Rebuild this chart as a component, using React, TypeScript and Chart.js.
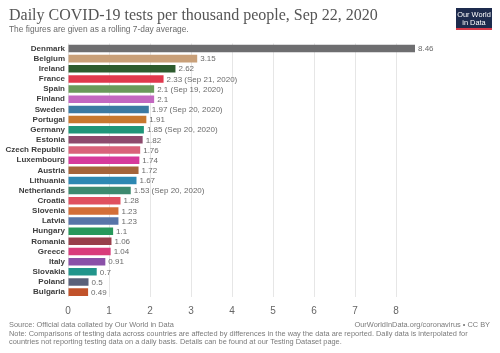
import React, { useEffect, useRef } from "react";
import { Chart, registerables } from "chart.js";

Chart.register(...registerables);

const countries = [
  "Denmark", "Belgium", "Ireland", "France", "Spain", "Finland", "Sweden", "Portugal",
  "Germany", "Estonia", "Czech Republic", "Luxembourg", "Austria", "Lithuania", "Netherlands",
  "Croatia", "Slovenia", "Latvia", "Hungary", "Romania", "Greece", "Italy", "Slovakia",
  "Poland", "Bulgaria",
];
const values = [
  8.46, 3.15, 2.62, 2.33, 2.1, 2.1, 1.97, 1.91, 1.85, 1.82, 1.76, 1.74, 1.72, 1.67, 1.53,
  1.28, 1.23, 1.23, 1.1, 1.06, 1.04, 0.91, 0.7, 0.5, 0.49,
];
const valueNotes = [
  "", "", "", " (Sep 21, 2020)", " (Sep 19, 2020)", "", " (Sep 20, 2020)", "",
  " (Sep 20, 2020)", "", "", "", "", "", " (Sep 20, 2020)",
  "", "", "", "", "", "", "", "", "", "",
];
const barColors = [
  "#6e6e70", "#c9a079", "#2d5b2e", "#e0384d", "#6a9a5b", "#c368c0", "#3c7aa2", "#c7782f",
  "#1f9679", "#8d4a6d", "#d9627a", "#d6399b", "#a4643a", "#2d88b2", "#3d8a6f",
  "#e0505f", "#d36e38", "#5775a8", "#27985a", "#983e4a", "#d93b7b", "#8a50a8", "#21958b",
  "#5a6079", "#c1522a",
];
const xTicks = [0, 1, 2, 3, 4, 5, 6, 7, 8];

const titleText = "Daily COVID-19 tests per thousand people, Sep 22, 2020";
const subtitleText = "The figures are given as a rolling 7-day average.";
const sourceText = "Source: Official data collated by Our World in Data";
const urlText = "OurWorldInData.org/coronavirus • CC BY";
const noteLines = [
  "Note: Comparisons of testing data across countries are affected by differences in the way the data are reported. Daily data is interpolated for",
  "countries not reporting testing data on a daily basis. Details can be found at our Testing Dataset page.",
];

const SANS = '"Liberation Sans", Arial, sans-serif';

const decorPlugin = {
  id: "decor",
  afterDatasetsDraw(chart: any) {
    const ctx = chart.ctx;
    const meta = chart.getDatasetMeta(0);
    ctx.save();
    ctx.font = `8px ${SANS}`;
    ctx.fillStyle = "#6b6b6b";
    ctx.textBaseline = "middle";
    ctx.textAlign = "left";
    meta.data.forEach((bar: any, i: number) => {
      ctx.fillText(String(values[i]) + valueNotes[i], bar.x + 3, bar.y + 0.5);
    });
    ctx.restore();
  },
  afterDraw(chart: any) {
    const ctx = chart.ctx;
    ctx.save();
    ctx.textBaseline = "alphabetic";
    ctx.textAlign = "left";
    ctx.fillStyle = "#555555";
    ctx.font = `16px "Liberation Serif", "DejaVu Serif", serif`;
    ctx.fillText(titleText, 9, 20);
    ctx.fillStyle = "#6a6a6a";
    ctx.font = `8.4px ${SANS}`;
    ctx.fillText(subtitleText, 9, 32);
    // Logo
    ctx.fillStyle = "#1d2b4d";
    ctx.fillRect(456, 8, 36, 20);
    ctx.fillStyle = "#d73a4a";
    ctx.fillRect(456, 28, 36, 2);
    ctx.fillStyle = "#ffffff";
    ctx.font = `7.4px ${SANS}`;
    ctx.textAlign = "center";
    ctx.fillText("Our World", 474, 16.5);
    ctx.fillText("in Data", 474, 25);
    // Footer
    ctx.fillStyle = "#7a7a7a";
    ctx.font = `7.4px ${SANS}`;
    ctx.textAlign = "left";
    ctx.fillText(sourceText, 9, 327);
    ctx.textAlign = "right";
    ctx.fillText(urlText, 490, 327);
    ctx.textAlign = "left";
    ctx.fillText(noteLines[0], 9, 335.5);
    ctx.fillText(noteLines[1], 9, 344);
    ctx.restore();
  },
};

export default function App() {
  const ref = useRef<HTMLCanvasElement>(null);
  useEffect(() => {
    if (!ref.current) return;
    const chart = new Chart(ref.current, {
      type: "bar",
      data: {
        labels: countries,
        datasets: [
          {
            data: values,
            backgroundColor: barColors,
            borderWidth: 0,
            barPercentage: 0.74,
            categoryPercentage: 1,
          },
        ],
      },
      options: {
        indexAxis: "y",
        responsive: false,
        animation: false,
        layout: { padding: { left: 0, right: 85, top: 43.4, bottom: 0 } },
        plugins: {
          legend: { display: false },
          tooltip: { enabled: false },
          title: { display: false },
        },
        scales: {
          x: {
            min: 0,
            max: 8.46,
            afterFit(scale: any) {
              scale.height = 55.8;
            },
            afterBuildTicks(scale: any) {
              scale.ticks = xTicks.map((v) => ({ value: v }));
            },
            grid: { color: "#e6e6e6", lineWidth: 1, drawTicks: false },
            border: { display: false },
            ticks: {
              padding: 8,
              color: "#666666",
              font: { size: 10, family: SANS },
            },
          },
          y: {
            afterFit(scale: any) {
              scale.width = 68;
            },
            grid: { display: false, drawTicks: false },
            border: { display: false },
            ticks: {
              padding: 3,
              autoSkip: false,
              color: "#3d3d3d",
              font: { size: 8, weight: "bold", family: SANS },
            },
          },
        },
      },
      plugins: [decorPlugin],
    });
    return () => chart.destroy();
  }, []);
  return (
    <div style={{ position: "absolute", left: 0, top: 0, width: 500, height: 353, background: "#fff" }}>
      <canvas ref={ref} width={500} height={353} style={{ display: "block" }} />
    </div>
  );
}
